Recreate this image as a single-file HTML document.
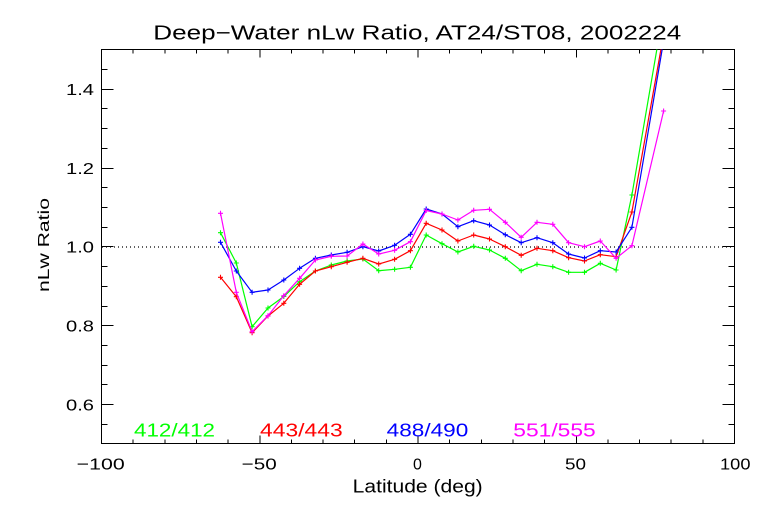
<!DOCTYPE html>
<html>
<head>
<meta charset="utf-8">
<style>
  html,body{margin:0;padding:0;background:#fff;}
  svg{display:block;}
  text{font-family:"Liberation Sans",sans-serif;}
</style>
</head>
<body>
<svg width="768" height="512" viewBox="0 0 768 512" xmlns="http://www.w3.org/2000/svg">
  <rect width="768" height="512" fill="#fff"/>
  <defs>
    <clipPath id="c"><rect x="101.5" y="49.5" width="633" height="394"/></clipPath>
    <marker id="mg" markerUnits="userSpaceOnUse" markerWidth="8" markerHeight="8" refX="4" refY="4" overflow="visible"><path d="M1.5,4H6.5M4,1.5V6.5" stroke="#00ff00" stroke-width="1.1" fill="none"/></marker>
    <marker id="mr" markerUnits="userSpaceOnUse" markerWidth="8" markerHeight="8" refX="4" refY="4" overflow="visible"><path d="M1.5,4H6.5M4,1.5V6.5" stroke="#ff0000" stroke-width="1.1" fill="none"/></marker>
    <marker id="mb" markerUnits="userSpaceOnUse" markerWidth="8" markerHeight="8" refX="4" refY="4" overflow="visible"><path d="M1.5,4H6.5M4,1.5V6.5" stroke="#0000ff" stroke-width="1.1" fill="none"/></marker>
    <marker id="mm" markerUnits="userSpaceOnUse" markerWidth="8" markerHeight="8" refX="4" refY="4" overflow="visible"><path d="M1.5,4H6.5M4,1.5V6.5" stroke="#ff00ff" stroke-width="1.1" fill="none"/></marker>
  </defs>

  <!-- Title -->
  <text x="153.3" y="39.3" font-size="20" textLength="528" lengthAdjust="spacingAndGlyphs" fill="#000">Deep−Water nLw Ratio, AT24/ST08, 2002224</text>

  <!-- Axes box -->
  <g stroke="#000" stroke-width="1" fill="none" shape-rendering="crispEdges">
    <rect x="101.5" y="49.5" width="633" height="394"/>
    <path d="
      M101.5,443.5V435.5 M101.5,49.5V57.5
      M133.2,443.5V439.5 M133.2,49.5V53.5
      M164.8,443.5V439.5 M164.8,49.5V53.5
      M196.5,443.5V439.5 M196.5,49.5V53.5
      M228.1,443.5V439.5 M228.1,49.5V53.5
      M259.8,443.5V435.5 M259.8,49.5V57.5
      M291.4,443.5V439.5 M291.4,49.5V53.5
      M323.1,443.5V439.5 M323.1,49.5V53.5
      M354.7,443.5V439.5 M354.7,49.5V53.5
      M386.4,443.5V439.5 M386.4,49.5V53.5
      M418,443.5V435.5 M418,49.5V57.5
      M449.7,443.5V439.5 M449.7,49.5V53.5
      M481.3,443.5V439.5 M481.3,49.5V53.5
      M513,443.5V439.5 M513,49.5V53.5
      M544.6,443.5V439.5 M544.6,49.5V53.5
      M576.3,443.5V435.5 M576.3,49.5V57.5
      M607.9,443.5V439.5 M607.9,49.5V53.5
      M639.6,443.5V439.5 M639.6,49.5V53.5
      M671.2,443.5V439.5 M671.2,49.5V53.5
      M702.9,443.5V439.5 M702.9,49.5V53.5
    "/>
    <path d="
      M101.5,424.5H107.5 M734.5,424.5H728.5
      M101.5,404.5H113.5 M734.5,404.5H722.5
      M101.5,384.5H107.5 M734.5,384.5H728.5
      M101.5,365.5H107.5 M734.5,365.5H728.5
      M101.5,345.5H107.5 M734.5,345.5H728.5
      M101.5,325.5H113.5 M734.5,325.5H722.5
      M101.5,306.5H107.5 M734.5,306.5H728.5
      M101.5,286.5H107.5 M734.5,286.5H728.5
      M101.5,266.5H107.5 M734.5,266.5H728.5
      M101.5,246.5H113.5 M734.5,246.5H722.5
      M101.5,227.5H107.5 M734.5,227.5H728.5
      M101.5,207.5H107.5 M734.5,207.5H728.5
      M101.5,187.5H107.5 M734.5,187.5H728.5
      M101.5,168.5H113.5 M734.5,168.5H722.5
      M101.5,148.5H107.5 M734.5,148.5H728.5
      M101.5,128.5H107.5 M734.5,128.5H728.5
      M101.5,108.5H107.5 M734.5,108.5H728.5
      M101.5,89.5H113.5 M734.5,89.5H722.5
      M101.5,69.5H107.5 M734.5,69.5H728.5
    "/>
  </g>

  <!-- Dotted 1.0 line -->
  <line x1="102" y1="247" x2="734" y2="247" stroke="#000" stroke-width="1.2" stroke-dasharray="1 3"/>

  <!-- Y tick labels -->
  <g font-size="16" fill="#000" text-anchor="end">
    <text x="94" y="410.5" textLength="28" lengthAdjust="spacingAndGlyphs">0.6</text>
    <text x="94" y="331.5" textLength="28" lengthAdjust="spacingAndGlyphs">0.8</text>
    <text x="94" y="252.5" textLength="28" lengthAdjust="spacingAndGlyphs">1.0</text>
    <text x="94" y="174" textLength="28" lengthAdjust="spacingAndGlyphs">1.2</text>
    <text x="94" y="95" textLength="28" lengthAdjust="spacingAndGlyphs">1.4</text>
  </g>

  <!-- X tick labels -->
  <g font-size="16" fill="#000">
    <text x="76.7" y="469.5" textLength="48" lengthAdjust="spacingAndGlyphs">−100</text>
    <text x="241.7" y="469.5" textLength="35" lengthAdjust="spacingAndGlyphs">−50</text>
    <text x="413" y="469.5">0</text>
    <text x="565" y="469.5" textLength="21" lengthAdjust="spacingAndGlyphs">50</text>
    <text x="720" y="469.5" textLength="30.5" lengthAdjust="spacingAndGlyphs">100</text>
  </g>

  <!-- Axis titles -->
  <text x="352.7" y="492.7" font-size="18" textLength="130" lengthAdjust="spacingAndGlyphs" fill="#000">Latitude (deg)</text>
  <text transform="translate(49,292) rotate(-90)" x="0" y="0" font-size="16" textLength="94" lengthAdjust="spacingAndGlyphs" fill="#000">nLw Ratio</text>

  <!-- Data -->
  <g clip-path="url(#c)" fill="none" stroke-width="1.2" stroke-linejoin="round">
    <polyline stroke="#00ff00" marker-start="url(#mg)" marker-mid="url(#mg)" marker-end="url(#mg)"
      points="220.5,232.7 236.3,263 252.1,326.7 268.0,308 283.8,296.5 299.6,281.7 315.4,271 331.3,265 347.1,261 362.9,259 378.7,270.7 394.6,269.3 410.4,267.3 426.2,235 442.0,243.7 457.9,252 473.7,246.3 489.5,250 505.3,258.3 521.2,270.7 537.0,264.3 552.8,266.7 568.6,272.3 584.5,272.3 600.3,263.3 616.1,270 631.9,195 663.6,10"/>
    <polyline stroke="#ff0000" marker-start="url(#mr)" marker-mid="url(#mr)" marker-end="url(#mr)"
      points="220.5,277.3 236.3,296.7 252.1,332.7 268.0,316 283.8,303.3 299.6,284.3 315.4,271 331.3,266.7 347.1,262.3 362.9,258.3 378.7,264 394.6,259.3 410.4,250.7 426.2,223.3 442.0,230 457.9,241 473.7,235 489.5,239 505.3,246.7 521.2,255.3 537.0,248.3 552.8,250.7 568.6,257.7 584.5,261 600.3,254.7 616.1,256.7 631.9,212 663.6,34.5"/>
    <polyline stroke="#0000ff" marker-start="url(#mb)" marker-mid="url(#mb)" marker-end="url(#mb)"
      points="220.5,242.3 236.3,271 252.1,292.3 268.0,290 283.8,280 299.6,268.3 315.4,258.3 331.3,255 347.1,252.3 362.9,246.7 378.7,251 394.6,245.3 410.4,234.3 426.2,209 442.0,214 457.9,226.7 473.7,220.7 489.5,225 505.3,234.7 521.2,242.7 537.0,237.7 552.8,242.7 568.6,254 584.5,258 600.3,250.7 616.1,252 631.9,227.3 663.6,41"/>
    <polyline stroke="#ff00ff" marker-start="url(#mm)" marker-mid="url(#mm)" marker-end="url(#mm)"
      points="220.5,213.3 236.3,292.3 252.1,331.7 268.0,315.7 283.8,295.7 299.6,278.3 315.4,260 331.3,256.3 347.1,256 362.9,244 378.7,254 394.6,250.3 410.4,241.7 426.2,210.5 442.0,214 457.9,220 473.7,210.3 489.5,209.3 505.3,222.3 521.2,237.3 537.0,222.3 552.8,224.3 568.6,242.7 584.5,246.7 600.3,241 616.1,258.3 631.9,245.7 663.6,111"/>
  </g>

  <!-- Legend -->
  <g font-size="18">
    <text x="134" y="436.5" fill="#00ff00" textLength="81" lengthAdjust="spacingAndGlyphs">412/412</text>
    <text x="260" y="436.5" fill="#ff0000" textLength="82.7" lengthAdjust="spacingAndGlyphs">443/443</text>
    <text x="386.7" y="436.5" fill="#0000ff" textLength="81.6" lengthAdjust="spacingAndGlyphs">488/490</text>
    <text x="513.3" y="436.5" fill="#ff00ff" textLength="82.4" lengthAdjust="spacingAndGlyphs">551/555</text>
  </g>
</svg>
</body>
</html>
